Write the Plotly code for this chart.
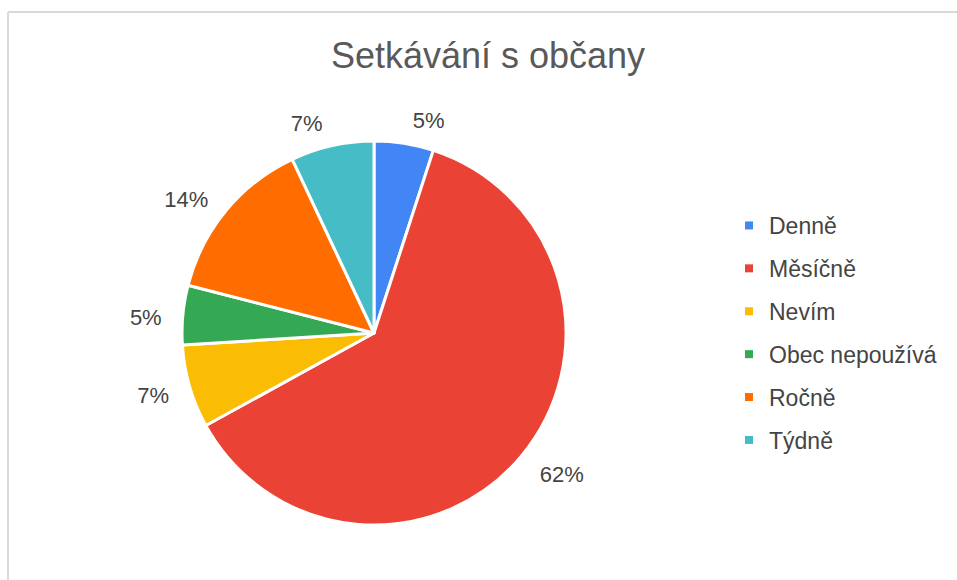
import plotly.graph_objects as go

categories = ["Denně", "Měsíčně", "Nevím", "Obec nepoužívá", "Ročně", "Týdně"]
values = [5, 62, 7, 5, 14, 7]
colors = ["#4285F4", "#EA4335", "#FBBC04", "#34A853", "#FF6D01", "#46BDC6"]
title_text = "Setkávání s občany"

W, H = 957, 580
cx, cy, r = 374, 333, 192
r_lbl = 207
FONT = "Liberation Sans, Arial, sans-serif"


def dom(rad, ccy):
    return dict(x=[(cx - rad) / W, (cx + rad) / W], y=[(H - ccy - rad) / H, (H - ccy + rad) / H])


fig = go.Figure()
# visible slices
fig.add_trace(go.Pie(
    labels=categories, values=values, sort=False, direction="clockwise", rotation=0,
    marker=dict(colors=colors, line=dict(color="white", width=3)),
    textinfo="none", domain=dom(r, cy),
    showlegend=False, automargin=False, hoverinfo="label+percent",
))
# percentage labels (placed slightly further out)
fig.add_trace(go.Pie(
    labels=categories, values=values, sort=False, direction="clockwise", rotation=0,
    marker=dict(colors=["rgba(0,0,0,0)"] * len(values), line=dict(width=0)),
    texttemplate="%{percent:.0%}", textposition="outside",
    textfont=dict(family=FONT, size=22, color="#444444"),
    domain=dom(r_lbl, cy + 4), showlegend=False, automargin=False, hoverinfo="skip",
))
for cat, col in zip(categories, colors):
    fig.add_trace(go.Scatter(
        x=[None], y=[None], mode="markers", name=cat, legendgroup=cat,
        marker=dict(symbol="square", size=8, color=col),
    ))

fig.update_layout(
    width=W, height=H, margin=dict(l=0, r=0, t=0, b=0),
    paper_bgcolor="white", plot_bgcolor="white",
    title=dict(text=title_text, x=488 / W, xanchor="center", y=1 - 55 / H, yanchor="middle",
               font=dict(family=FONT, size=36, color="#595959")),
    xaxis=dict(visible=False), yaxis=dict(visible=False),
    legend=dict(x=729 / W, xanchor="left", y=1 - 204 / H, yanchor="top",
                font=dict(family=FONT, size=23, color="#444444"),
                tracegroupgap=10, itemwidth=30),
    shapes=[
        dict(type="line", xref="paper", yref="paper", x0=8 / W, x1=1, y0=1 - 12 / H, y1=1 - 12 / H,
             line=dict(color="#d9d9d9", width=2)),
        dict(type="line", xref="paper", yref="paper", x0=8 / W, x1=8 / W, y0=0, y1=1 - 12 / H,
             line=dict(color="#d9d9d9", width=2)),
    ],
)
fig.write_html("out.html", config={"displayModeBar": False},
               post_script="document.body.style.margin='0';")
